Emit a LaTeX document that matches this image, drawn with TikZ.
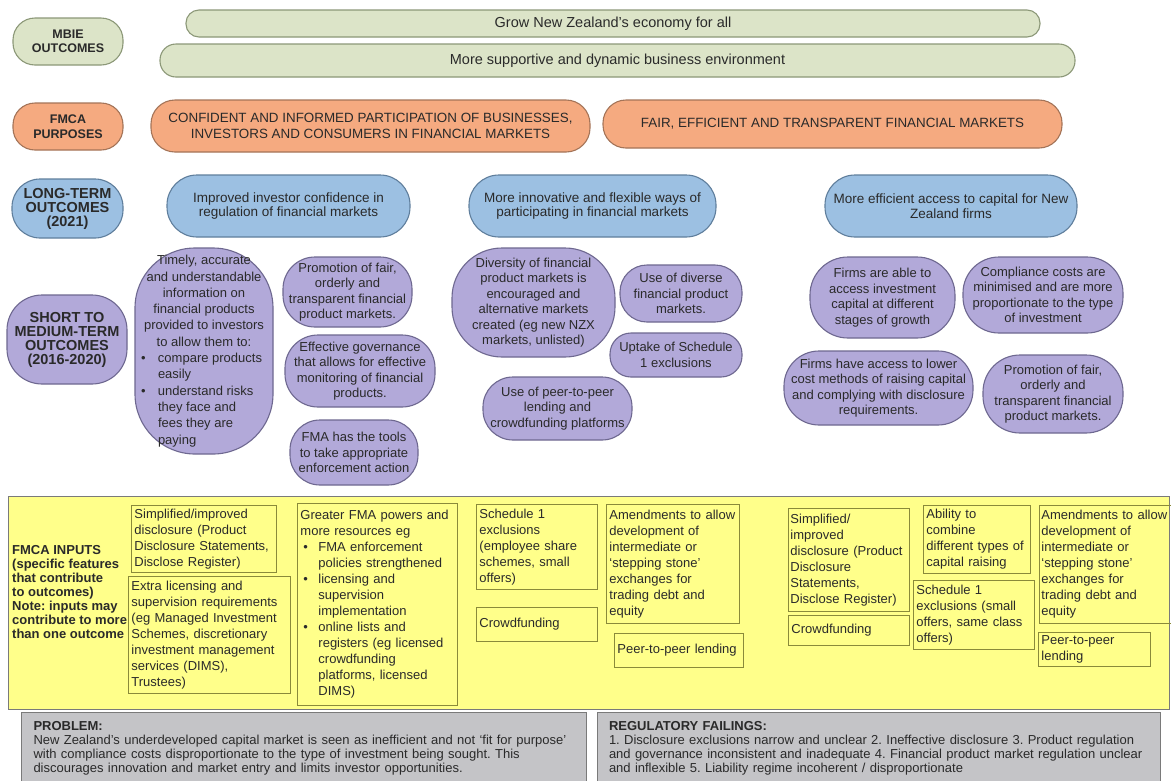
\documentclass[tikz,border=0pt]{standalone}
\usepackage{fontspec}
\setmainfont{Liberation Sans}
\frenchspacing
\definecolor{grn}{HTML}{DCE4C8}
\definecolor{grnD}{HTML}{8C9878}
\definecolor{org}{HTML}{F5AA80}
\definecolor{orgD}{HTML}{A47458}
\definecolor{blu}{HTML}{9CC0E2}
\definecolor{bluD}{HTML}{5F7E9C}
\definecolor{pur}{HTML}{B2A9D9}
\definecolor{purD}{HTML}{6E6890}
\definecolor{yel}{HTML}{FFFF8A}
\definecolor{yelD}{HTML}{8A8A3A}
\definecolor{gry}{HTML}{C4C4C7}
\definecolor{gryD}{HTML}{7A7A7A}
\definecolor{txt}{HTML}{2A2A2A}
\newcommand\lbul[1]{\makebox[126pt][l]{\makebox[17pt][l]{\textbullet}#1}}
\newcommand\lcont[1]{\makebox[126pt][l]{\hspace*{17pt}#1}}
\newcommand\ybul[1]{\makebox[18pt][l]{\hspace*{3pt}\textbullet}#1}
\newcommand\ycont[1]{\hspace*{18pt}#1}
\tikzset{
  sz/.style n args={2}{minimum width=#1pt, minimum height=#2pt},
  rbase/.style={draw, line width=1.1pt, align=center, text=txt, inner sep=1pt},
  grnbox/.style={rbase, fill=grn, draw=grnD, font=\fontsize{14.5}{16}\selectfont},
  orgbox/.style={rbase, fill=org, draw=orgD, font=\fontsize{13.4}{15.5}\selectfont},
  blubox/.style={rbase, fill=blu, draw=bluD, font=\fontsize{13.5}{14.5}\selectfont},
  purbox/.style={rbase, fill=pur, draw=purD, font=\fontsize{13}{15.5}\selectfont},
  lblsmall/.style={font=\bfseries\fontsize{12.5}{14.5}\selectfont},
  lblbig/.style={font=\bfseries\fontsize{14.5}{14}\selectfont},
  yarea/.style={draw=gryD, fill=yel, line width=1.2pt, anchor=north west, inner sep=0pt},
  ybox/.style={draw=yelD, line width=0.9pt, anchor=north west, align=left, text=txt,
    inner xsep=3pt, inner ysep=2pt, font=\fontsize{13}{16}\selectfont},
  grybox/.style={draw=gryD, fill=gry, line width=1pt, anchor=north west, align=left,
    text=txt, font=\fontsize{13}{14}\selectfont},
}
\begin{document}
\begin{tikzpicture}[x=1pt,y=-1pt]
\useasboundingbox (0,0) rectangle (1171,780);
\fill[white] (0,0) rectangle (1171,780);

% ---- MBIE outcomes
\node[grnbox, lblsmall, sz={110}{47}, rounded corners=22pt] (mbie) at (68,41.5) {MBIE\\OUTCOMES};
\node[grnbox, sz={854}{27}, rounded corners=13pt] (grow) at (613,23.5) {Grow New Zealand's economy for all};
\node[grnbox, sz={915}{33}, rounded corners=16pt] (more) at (617.5,60.5) {More supportive and dynamic business environment};

% ---- FMCA purposes
\node[rbase, fill=org, draw=orgD, lblsmall, sz={110}{47}, rounded corners=22pt] (fmcap) at (68,126.5) {FMCA\\PURPOSES};
\node[orgbox, sz={439}{52}, rounded corners=24pt] (or1) at (370.5,126) {CONFIDENT AND INFORMED PARTICIPATION OF BUSINESSES,\\INVESTORS AND CONSUMERS IN FINANCIAL MARKETS};
\node[orgbox, sz={459}{48}, rounded corners=23pt] (or2) at (832.5,124) {FAIR, EFFICIENT AND TRANSPARENT FINANCIAL MARKETS};

% ---- Long-term outcomes
\node[rbase, fill=blu, draw=bluD, lblbig, sz={111}{59}, rounded corners=28pt] (lto) at (67.5,208.5) {LONG-TERM\\OUTCOMES\\(2021)};
\node[blubox, sz={243}{62}, rounded corners=30pt] (bl1) at (288.5,206) {Improved investor confidence in\\regulation of financial markets};
\node[blubox, sz={247}{62}, rounded corners=30pt] (bl2) at (592.5,206) {More innovative and flexible ways of\\participating in financial markets};
\node[blubox, sz={252}{62}, rounded corners=30pt] (bl3) at (951,206) {More efficient access to capital for New\\Zealand firms};

% ---- Short to medium-term outcomes
\node[rbase, fill=pur, draw=purD, lblbig, sz={120}{89}, rounded corners=35pt] (smt) at (67,339.5) {SHORT TO\\MEDIUM-TERM\\OUTCOMES\\(2016-2020)};
\node[purbox, sz={138}{206}, rounded corners=60pt, font=\fontsize{13}{16.3}\selectfont] (p1) at (204,351) {Timely, accurate\\and understandable\\information on\\financial products\\provided to investors\\to allow them to:\\\lbul{compare products}\\\lcont{easily}\\\lbul{understand risks}\\\lcont{they face and}\\\lcont{fees they are}\\\lcont{paying}};
\node[purbox, sz={129}{70}, rounded corners=32pt] (p2) at (347.5,292) {Promotion of fair,\\orderly and\\transparent financial\\product markets.};
\node[purbox, sz={150}{72}, rounded corners=33pt] (p3) at (360,371) {Effective governance\\that allows for effective\\monitoring of financial\\products.};
\node[purbox, sz={128}{65}, rounded corners=30pt] (p4) at (354,452.5) {FMA has the tools\\to take appropriate\\enforcement action};
\node[purbox, sz={163}{109}, rounded corners=50pt] (p5) at (533.5,302.5) {Diversity of financial\\product markets is\\encouraged and\\alternative markets\\created (eg new NZX\\markets, unlisted)};
\node[purbox, sz={122}{57}, rounded corners=27pt] (p6) at (681,293.5) {Use of diverse\\financial product\\markets.};
\node[purbox, sz={132}{44}, rounded corners=21pt] (p7) at (676,355) {Uptake of Schedule\\1 exclusions};
\node[purbox, sz={149}{63}, rounded corners=30pt] (p8) at (557.5,408.5) {Use of peer-to-peer\\lending and\\crowdfunding platforms};
\node[purbox, sz={145}{81}, rounded corners=38pt] (p9) at (882.5,297.5) {Firms are able to\\access investment\\capital at different\\stages of growth};
\node[purbox, sz={160}{76}, rounded corners=36pt] (p10) at (1043,295) {Compliance costs are\\minimised and are more\\proportionate to the type\\of investment};
\node[purbox, sz={189}{74}, rounded corners=35pt] (p11) at (878.5,388) {Firms have access to lower\\cost methods of raising capital\\and complying with disclosure\\requirements.};
\node[purbox, sz={140}{78}, rounded corners=37pt] (p12) at (1053,394) {Promotion of fair,\\orderly and\\transparent financial\\product markets.};

% ---- FMCA inputs
\node[yarea, sz={1161}{213}] (inputs) at (8,496) {};
\node[anchor=west, align=left, text=txt, inner sep=0pt, font=\bfseries\fontsize{13}{14}\selectfont] (inlbl) at (12,592) {FMCA INPUTS\\(specific features\\that contribute\\to outcomes)\\Note: inputs may\\contribute to more\\than one outcome};
\node[ybox, sz={145}{67}, text width=139pt] (y1) at (131,505) {Simplified/improved\\disclosure (Product\\Disclosure Statements,\\Disclose Register)};
\node[ybox, sz={162}{117}, text width=156pt] (y2) at (128,576) {Extra licensing and\\supervision requirements\\(eg Managed Investment\\Schemes, discretionary\\investment management\\services (DIMS),\\Trustees)};
\node[ybox, sz={160}{202}, text width=154pt] (y3) at (297,503) {Greater FMA powers and\\more resources eg\\\ybul{FMA enforcement}\\\ycont{policies strengthened}\\\ybul{licensing and}\\\ycont{supervision}\\\ycont{implementation}\\\ybul{online lists and}\\\ycont{registers (eg licensed}\\\ycont{crowdfunding}\\\ycont{platforms, licensed}\\\ycont{DIMS)}};
\node[ybox, sz={121}{85}, text width=115pt] (y4) at (476,504) {Schedule 1\\exclusions\\(employee share\\schemes, small\\offers)};
\node[ybox, sz={121}{34}, text width=115pt] (y5) at (476,607) {Crowdfunding};
\node[ybox, sz={133}{119}, text width=127pt] (y6) at (606,504) {Amendments to allow\\development of\\intermediate or\\`stepping stone'\\exchanges for\\trading debt and\\equity};
\node[ybox, sz={129}{34}, text width=123pt] (y7) at (614,633) {Peer-to-peer lending};
\node[ybox, sz={121}{103}, text width=117pt, inner xsep=2pt] (y8) at (788,508) {Simplified/\\improved\\disclosure (Product\\Disclosure\\Statements,\\Disclose Register)};
\node[ybox, sz={121}{30}, text width=115pt] (y9) at (788,615) {Crowdfunding};
\node[ybox, sz={107}{68}, text width=101pt] (y10) at (923,505) {Ability to\\combine\\different types of\\capital raising};
\node[ybox, sz={121}{69}, text width=115pt] (y11) at (913,580) {Schedule 1\\exclusions (small\\offers, same class\\offers)};
\node[ybox, sz={132}{118}, text width=128pt, inner xsep=2pt] (y12) at (1039,505) {Amendments to allow\\development of\\intermediate or\\`stepping stone'\\exchanges for\\trading debt and\\equity};
\node[ybox, sz={112}{34}, text width=106pt] (y13) at (1038,632) {Peer-to-peer\\lending};

% ---- Problem / regulatory failings
\node[grybox, sz={565}{72}, text width=541pt, inner xsep=12pt] (prob) at (21,712) {\textbf{PROBLEM:}\\New Zealand's underdeveloped capital market is seen as inefficient and not `fit for purpose'\\with compliance costs disproportionate to the type of investment being sought. This\\discourages innovation and market entry and limits investor opportunities.};
\node[grybox, sz={563}{72}, text width=540pt, inner xsep=11.5pt] (fail) at (597,712) {\textbf{REGULATORY FAILINGS:}\\1. Disclosure exclusions narrow and unclear 2. Ineffective disclosure 3. Product regulation\\and governance inconsistent and inadequate 4. Financial product market regulation unclear\\and inflexible 5. Liability regime incoherent / disproportionate};
\end{tikzpicture}
\end{document}
